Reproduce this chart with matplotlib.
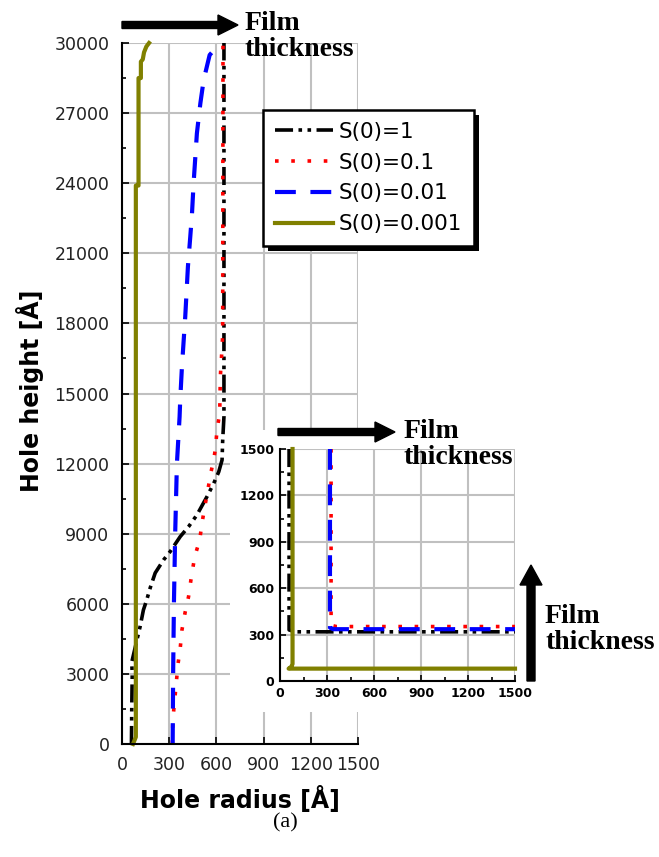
import matplotlib
matplotlib.use("Agg")
import matplotlib.pyplot as plt
from matplotlib.patches import FancyArrow, Rectangle
from matplotlib.transforms import IdentityTransform
from matplotlib.ticker import MultipleLocator

# ---------------- data ----------------
series_labels = ["S(0)=1", "S(0)=0.1", "S(0)=0.01", "S(0)=0.001"]
series_colors = ["black", "red", "blue", "#808000"]

# main panel (hole radius vs hole height)
black_x = [60, 62, 65, 62, 100, 115, 136, 157, 179, 211, 264, 306, 370, 423, 476, 540, 583, 615, 636, 640, 648, 648]
black_y = [0, 1500, 3000, 3500, 4600, 5020, 5735, 6163, 6677, 7320, 7876, 8233, 8875, 9300, 9800, 10584, 11155, 11650, 12155, 13011, 14000, 30000]
red_x = [320, 323, 345, 355, 370, 381, 402, 423, 438, 462, 494, 508, 530, 551, 566, 583, 594, 604, 621, 625, 632, 640, 642]
red_y = [0, 1027, 2600, 3380, 4094, 4879, 5662, 6304, 7019, 8017, 8731, 9440, 10296, 11081, 11650, 12155, 12656, 13439, 14153, 15720, 16500, 17500, 30000]
blue_x = [322, 325, 330, 338, 349, 366, 370, 381, 402, 419, 434, 445, 455, 476, 498, 519, 557, 604, 622]
blue_y = [0, 3000, 6000, 9000, 12000, 14000, 14723, 16150, 18290, 20430, 21714, 22712, 23995, 26133, 27417, 28416, 29486, 29843, 30000]
olive_x = [70, 88, 88, 105, 105, 120, 120, 132, 140, 155, 172]
olive_y = [0, 300, 23900, 23900, 28500, 28500, 29200, 29300, 29600, 29850, 30000]

# inset panel (zoom near the bottom)
in_black_x = [58, 58, 100, 1500]
in_black_y = [1500, 330, 318, 318]
in_red_x = [326, 326, 360, 1500]
in_red_y = [1500, 360, 352, 352]
in_blue_x = [319, 319, 340, 1500]
in_blue_y = [1500, 345, 335, 335]
in_olive_x = [1500, 55, 72, 80, 80]
in_olive_y = [80, 80, 92, 110, 1500]

main_xticks = [0, 300, 600, 900, 1200, 1500]
main_yticks = [0, 3000, 6000, 9000, 12000, 15000, 18000, 21000, 24000, 27000, 30000]
inset_ticks = [0, 300, 600, 900, 1200, 1500]

W, H = 659, 857
fig = plt.figure(figsize=(W / 100, H / 100), dpi=100)

styles = [
    dict(color="black", lw=2.6, linestyle=(0, (5, 1.5, 1, 1.5, 1, 1.5))),
    dict(color="red", lw=2.6, linestyle=(0, (1, 3.5))),
    dict(color="blue", lw=3.0, linestyle=(0, (5, 3.5))),
    dict(color="#808000", lw=3.0, linestyle="-"),
]

def px_box(l, t, r, b):
    return [l / W, 1 - b / H, (r - l) / W, (b - t) / H]

# ---------------- main axes ----------------
ax = fig.add_axes(px_box(122, 43, 358, 744))
for (xs, ys), st, lab in zip([(black_x, black_y), (red_x, red_y), (blue_x, blue_y), (olive_x, olive_y)], styles, series_labels):
    ax.plot(xs, ys, label=lab, clip_on=False, **st)
ax.set_xlim(0, 1500)
ax.set_ylim(0, 30000)
ax.set_xticks(main_xticks)
ax.set_yticks(main_yticks)
ax.yaxis.set_minor_locator(MultipleLocator(1500))
ax.grid(True, color="#c0c0c0", lw=1.5)
ax.set_axisbelow(True)
for s in ["top", "right"]:
    ax.spines[s].set_visible(False)
for s in ["left", "bottom"]:
    ax.spines[s].set_linewidth(1.5)
ax.tick_params(which="both", direction="in", labelsize=12.5, labelcolor="#222222", width=1.2)
ax.tick_params(which="major", length=5, pad=9)
ax.tick_params(which="minor", length=3)

leg = ax.legend(loc="upper left", bbox_to_anchor=(263 / W, 1 - 110 / H), bbox_transform=fig.transFigure,
                fontsize=15.5, frameon=True, fancybox=False, handlelength=2.7, handletextpad=0.25,
                labelspacing=0.5, borderpad=0.55, borderaxespad=0, framealpha=1)
leg.get_frame().set_edgecolor("black")
leg.get_frame().set_facecolor("white")
leg.get_frame().set_linewidth(1.8)
leg.set_zorder(6)

# white backing under the inset
fig.add_artist(Rectangle((230 / W, 1 - 712 / H), 300 / W, 282 / H, transform=fig.transFigure,
                         facecolor="white", edgecolor="none", zorder=1.5))

# ---------------- inset axes ----------------
ax2 = fig.add_axes(px_box(280, 449, 515, 681))
ax2.set_zorder(2)
for (xs, ys), st in zip([(in_black_x, in_black_y), (in_red_x, in_red_y), (in_blue_x, in_blue_y), (in_olive_x, in_olive_y)], styles):
    ax2.plot(xs, ys, clip_on=False, **st)
ax2.set_xlim(0, 1500)
ax2.set_ylim(0, 1500)
ax2.set_xticks(inset_ticks)
ax2.set_yticks(inset_ticks)
ax2.xaxis.set_minor_locator(MultipleLocator(150))
ax2.yaxis.set_minor_locator(MultipleLocator(150))
ax2.grid(True, color="#c0c0c0", lw=1.5)
ax2.set_axisbelow(True)
for s in ["top", "right"]:
    ax2.spines[s].set_visible(False)
for s in ["left", "bottom"]:
    ax2.spines[s].set_linewidth(1.5)
ax2.tick_params(which="both", direction="in", labelsize=9, width=1.2)
ax2.tick_params(which="major", length=4, pad=4)
ax2.tick_params(which="minor", length=3)
for t in ax2.get_xticklabels() + ax2.get_yticklabels():
    t.set_fontweight("bold")

# ---------------- labels ----------------
fig.text(30 / W, 1 - 391 / H, "Hole height [Å]", rotation=90, ha="center", va="center",
         fontsize=17, fontweight="bold")
fig.text(240 / W, 1 - 800 / H, "Hole radius [Å]", ha="center", va="center",
         fontsize=17, fontweight="bold")
fig.text(285 / W, 1 - 823 / H, "(a)", ha="center", va="center", fontsize=16,
         family="Liberation Serif")

film_kw = dict(ha="left", va="top", fontsize=20, fontweight="bold", family="Liberation Serif",
               linespacing=1.05, zorder=4)
fig.text(245 / W, 1 - 11 / H, "Film\nthickness", **film_kw)
fig.text(404 / W, 1 - 419 / H, "Film\nthickness", **film_kw)
fig.text(545 / W, 1 - 604 / H, "Film\nthickness", **film_kw)

# arrows (display pixels, origin bottom-left)
def arrow(x0, y0, x1, y1, width=7, hw=20, hl=20):
    a = FancyArrow(x0, H - y0, x1 - x0, -(y1 - y0), width=width, head_width=hw, head_length=hl,
                   length_includes_head=True, transform=IdentityTransform(), color="black", zorder=4)
    fig.add_artist(a)

arrow(122, 25, 238, 25)
arrow(278, 432, 395, 432)
arrow(531, 681, 531, 565, width=8, hw=22)

# legend shadow
fig.canvas.draw()
bb = leg.get_window_extent()
sh = Rectangle((bb.x0 + 5, bb.y0 - 5), bb.width, bb.height, transform=IdentityTransform(),
               facecolor="black", edgecolor="none", zorder=5.5)
ax.add_patch(sh)
sh.set_transform(IdentityTransform())
sh.set_clip_on(False)

fig.savefig("out.png", dpi=100)
